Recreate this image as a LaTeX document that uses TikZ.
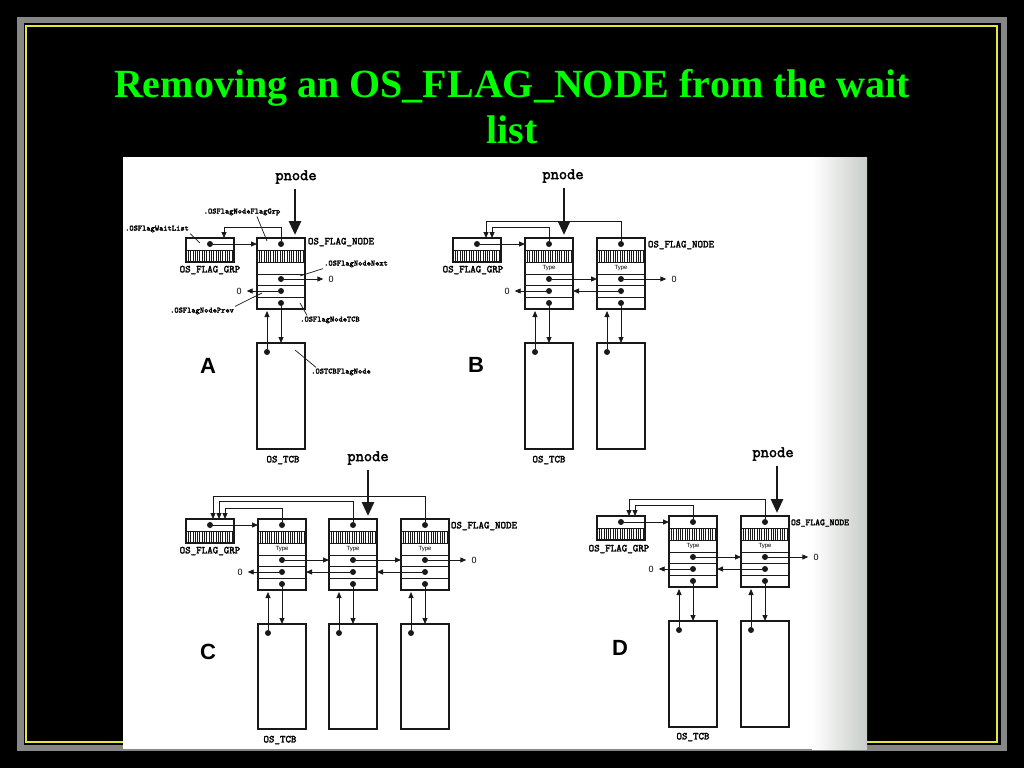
\documentclass[tikz,border=0pt]{standalone}
\usepackage{fontspec}
\setmainfont{Liberation Serif}
\setsansfont{Liberation Sans}
\newfontfamily\lblmono{Latin Modern Mono}[FakeBold=2.5]
\usetikzlibrary{arrows.meta}
\definecolor{titlegreen}{RGB}{0,255,0}
\definecolor{framegray}{RGB}{135,135,135}
\definecolor{frameyellow}{RGB}{230,230,60}
\definecolor{edgegray}{RGB}{200,205,200}
\definecolor{ink}{RGB}{25,25,25}
\tikzset{
 boxline/.style={draw=ink, line width=1.1pt},
 nodebox/.style={boxline, minimum width=48pt, minimum height=71pt, inner sep=0pt, outer sep=0pt},
 grpbox/.style={boxline, minimum width=48pt, minimum height=24pt, inner sep=0pt, outer sep=0pt},
 tcbbox/.style={boxline, minimum width=48pt, inner sep=0pt, outer sep=0pt},
 rowline/.style={draw=ink, line width=0.8pt},
 hatchline/.style={draw=ink, line width=0.7pt},
 dot/.style={circle, fill=ink, inner sep=0pt, minimum size=6pt},
 arr/.style={draw=ink, line width=0.9pt, -{Triangle[length=6pt,width=5pt]}},
 bigarr/.style={draw=ink, line width=2.8pt, -{Triangle[length=14pt,width=12pt]}, shorten >=3pt, shorten <=5pt},
 leader/.style={draw=ink, line width=0.7pt},
 pnodelbl/.style={font=\lblmono\fontsize{16}{16}\selectfont, inner sep=0pt},
 structlbl/.style={font=\lblmono\fontsize{10.5}{10.5}\selectfont, inner sep=1pt},
 smallstructlbl/.style={font=\lblmono\fontsize{9.2}{9.2}\selectfont, inner sep=1pt},
 fieldlbl/.style={font=\lblmono\fontsize{8}{8}\selectfont, inner sep=1pt},
 typelbl/.style={font=\sffamily\fontsize{6}{6}\selectfont, inner sep=0pt},
 zerolbl/.style={font=\sffamily\fontsize{9}{9}\selectfont, inner sep=0pt},
 panellbl/.style={font=\sffamily\bfseries\fontsize{22}{22}\selectfont, inner sep=0pt},
 titlelbl/.style={font=\bfseries\fontsize{40}{46}\selectfont, text=titlegreen, inner sep=0pt},
}
\newcommand\HatchRow[3]{%
 \foreach \hi in {1,...,20}{\draw[hatchline] ({#1+\hi*2.3},#2) -- ({#1+\hi*2.3},#3);}}
\newcommand\FlagNode[3]{%
 \node[nodebox, anchor=north west] (#1) at (#2,#3) {};
 \foreach \ry in {12,24,36,47,59}{\draw[rowline] (#2,{#3+\ry}) -- ({#2+48},{#3+\ry});}
 \HatchRow{#2}{#3+12}{#3+24}
 \node[dot] (#1-t) at ({#2+24},{#3+6}) {};
 \node[dot] (#1-n) at ({#2+24},{#3+41}) {};
 \node[dot] (#1-p) at ({#2+24},{#3+53}) {};
 \node[dot] (#1-c) at ({#2+24},{#3+65}) {};
}
\newcommand\GrpBox[3]{%
 \node[grpbox, anchor=north west] (#1) at (#2,#3) {};
 \draw[rowline] (#2,{#3+12}) -- ({#2+48},{#3+12});
 \HatchRow{#2}{#3+12}{#3+24}
 \node[dot] (#1-d) at ({#2+24},{#3+6}) {};
}
\newcommand\TcbBox[4]{%
 \node[tcbbox, anchor=north west, minimum height=#4pt] (#1) at (#2,#3) {};
 \node[dot] (#1-d) at ({#2+10},{#3+9}) {};
}
\newcommand\TcbLinks[2]{%
 \draw[arr, shorten >=2pt] (#2-d) -- (#1.south -| #2-d);
 \draw[arr] (#1-c) -- (#2.north -| #1-c);
}
\begin{document}
\begin{tikzpicture}[x=1pt,y=-1pt]
\useasboundingbox (0,0) rectangle (1024,768);
\fill[black] (0,0) rectangle (1024,768);
\draw[framegray, line width=6.5pt] (20.25,20.25) rectangle (1003.75,747.75);
\draw[frameyellow, line width=1.5pt] (26,26) rectangle (997,742);
\fill[white] (123,157) rectangle (867,749);
\shade[left color=white, right color=edgegray] (812,157) rectangle (867,749);

\node[titlelbl, anchor=base] (title1) at (512,97) {Removing an OS\_FLAG\_NODE from the wait};
\node[titlelbl, anchor=base] (title2) at (512,143) {list};

% ---------------- Panel A ----------------
\GrpBox{Ag}{186}{238}
\FlagNode{A1}{257}{238}
\TcbBox{AT1}{257}{343}{106}
\node[structlbl] (Agl) at (210,270) {OS\_FLAG\_GRP};
\node[structlbl] (Anl) at (341,242) {OS\_FLAG\_NODE};
\node[structlbl] (Atl) at (283,460) {OS\_TCB};
\node[pnodelbl] (Ap) at (296,177) {pnode};
\coordinate (Apa) at (295,238);
\draw[bigarr] (Ap.south -| Apa) -- (Apa);
\draw[arr] (Ag-d) -- (A1.west |- Ag-d);
\coordinate (Ak1) at (224,227);
\draw[arr] (A1-t) |- (Ak1) -- (Ag.north -| Ak1);
\node[zerolbl] (Az1) at (331,279) {0};
\node[zerolbl] (Az0) at (239,291) {0};
\draw[arr, shorten >=5pt] (A1-n) -- (Az1);
\draw[arr, shorten >=5pt] (A1-p) -- (Az0);
\TcbLinks{A1}{AT1}
\node[panellbl] (AL) at (208,366) {A};
\node[fieldlbl] (lFG) at (242,212) {.OSFlagNodeFlagGrp};
\coordinate (cFG) at (267,241);
\draw[leader] ([xshift=15pt]lFG.south) -- (cFG);
\node[fieldlbl] (lWL) at (157,229) {.OSFlagWaitList};
\coordinate (cWL) at (200,243);
\draw[leader] (lWL.south east) -- (cWL);
\node[fieldlbl] (lNN) at (356,264) {.OSFlagNodeNext};
\coordinate (cNN) at (300,276);
\draw[leader] (lNN.south west) -- (cNN);
\node[fieldlbl] (lNP) at (202,311) {.OSFlagNodePrev};
\coordinate (cNP) at (262,293);
\draw[leader] (lNP.north east) -- (cNP);
\node[fieldlbl] (lNT) at (330,320) {.OSFlagNodeTCB};
\coordinate (cNT) at (300,303);
\draw[leader] ([xshift=8pt]lNT.north west) -- (cNT);
\node[fieldlbl] (lTF) at (341,372) {.OSTCBFlagNode};
\coordinate (cTF) at (295,350);
\draw[leader] ([xshift=6pt]lTF.north west) -- (cTF);

% ---------------- Panel B ----------------
\GrpBox{Bg}{453}{238}
\FlagNode{B1}{525}{238}
\FlagNode{B2}{597}{238}
\TcbBox{BT1}{525}{343}{106}
\TcbBox{BT2}{597}{343}{106}
\node[typelbl] (B1y) at (549,268) {Type};
\node[typelbl] (B2y) at (621,268) {Type};
\node[structlbl] (Bgl) at (473,270) {OS\_FLAG\_GRP};
\node[structlbl] (Bnl) at (681,245) {OS\_FLAG\_NODE};
\node[structlbl] (Btl) at (549,460) {OS\_TCB};
\node[pnodelbl] (Bp) at (563,176) {pnode};
\coordinate (Bpa) at (564,238);
\draw[bigarr] (Bp.south -| Bpa) -- (Bpa);
\draw[arr] (Bg-d) -- (B1.west |- Bg-d);
\coordinate (Bk1) at (492,227);
\coordinate (Bk2) at (486,221);
\draw[arr] (B1-t) |- (Bk1) -- (Bg.north -| Bk1);
\draw[arr] (B2-t) |- (Bk2) -- (Bg.north -| Bk2);
\draw[arr] (B1-n) -- (B2.west |- B1-n);
\draw[arr] (B2-p) -- (B1.east |- B2-p);
\node[zerolbl] (Bz1) at (674,279) {0};
\node[zerolbl] (Bz0) at (507,291) {0};
\draw[arr, shorten >=5pt] (B2-n) -- (Bz1);
\draw[arr, shorten >=5pt] (B1-p) -- (Bz0);
\TcbLinks{B1}{BT1}
\TcbLinks{B2}{BT2}
\node[panellbl] (BL) at (476,365) {B};

% ---------------- Panel C ----------------
\GrpBox{Cg}{186}{519}
\FlagNode{C1}{258}{519}
\FlagNode{C2}{329}{519}
\FlagNode{C3}{401}{519}
\TcbBox{CT1}{258}{624}{105}
\TcbBox{CT2}{329}{624}{105}
\TcbBox{CT3}{401}{624}{105}
\node[typelbl] (C1y) at (282,549) {Type};
\node[typelbl] (C2y) at (353,549) {Type};
\node[typelbl] (C3y) at (425,549) {Type};
\node[structlbl] (Cgl) at (210,551) {OS\_FLAG\_GRP};
\node[structlbl] (Cnl) at (484,526) {OS\_FLAG\_NODE};
\node[structlbl] (Ctl) at (280,740) {OS\_TCB};
\node[pnodelbl] (Cp) at (368,458) {pnode};
\coordinate (Cpa) at (368,519);
\draw[bigarr] (Cp.south -| Cpa) -- (Cpa);
\draw[arr] (Cg-d) -- (C1.west |- Cg-d);
\coordinate (Ck1) at (225,508);
\coordinate (Ck2) at (219,501);
\coordinate (Ck3) at (213,496);
\draw[arr] (C1-t) |- (Ck1) -- (Cg.north -| Ck1);
\draw[arr] (C2-t) |- (Ck2) -- (Cg.north -| Ck2);
\draw[arr] (C3-t) |- (Ck3) -- (Cg.north -| Ck3);
\draw[arr] (C1-n) -- (C2.west |- C1-n);
\draw[arr] (C2-n) -- (C3.west |- C2-n);
\draw[arr] (C3-p) -- (C2.east |- C3-p);
\draw[arr] (C2-p) -- (C1.east |- C2-p);
\node[zerolbl] (Cz1) at (474,560) {0};
\node[zerolbl] (Cz0) at (240,572) {0};
\draw[arr, shorten >=5pt] (C3-n) -- (Cz1);
\draw[arr, shorten >=5pt] (C1-p) -- (Cz0);
\TcbLinks{C1}{CT1}
\TcbLinks{C2}{CT2}
\TcbLinks{C3}{CT3}
\node[panellbl] (CL) at (208,652) {C};

% ---------------- Panel D ----------------
\GrpBox{Dg}{597}{516}
\FlagNode{D1}{669}{516}
\FlagNode{D2}{741}{516}
\TcbBox{DT1}{669}{621}{106}
\TcbBox{DT2}{741}{621}{106}
\node[typelbl] (D1y) at (693,546) {Type};
\node[typelbl] (D2y) at (765,546) {Type};
\node[structlbl] (Dgl) at (619,549) {OS\_FLAG\_GRP};
\node[smallstructlbl] (Dnl) at (820,523) {OS\_FLAG\_NODE};
\node[structlbl] (Dtl) at (693,737) {OS\_TCB};
\node[pnodelbl] (Dp) at (773,454) {pnode};
\coordinate (Dpa) at (777,516);
\draw[bigarr] (Dp.south -| Dpa) -- (Dpa);
\draw[arr] (Dg-d) -- (D1.west |- Dg-d);
\coordinate (Dk1) at (635,505);
\coordinate (Dk2) at (629,499);
\draw[arr] (D1-t) |- (Dk1) -- (Dg.north -| Dk1);
\draw[arr] (D2-t) |- (Dk2) -- (Dg.north -| Dk2);
\draw[arr] (D1-n) -- (D2.west |- D1-n);
\draw[arr] (D2-p) -- (D1.east |- D2-p);
\node[zerolbl] (Dz1) at (816,557) {0};
\node[zerolbl] (Dz0) at (651,569) {0};
\draw[arr, shorten >=5pt] (D2-n) -- (Dz1);
\draw[arr, shorten >=5pt] (D1-p) -- (Dz0);
\TcbLinks{D1}{DT1}
\TcbLinks{D2}{DT2}
\node[panellbl] (DL) at (620,648) {D};
\end{tikzpicture}
\end{document}
